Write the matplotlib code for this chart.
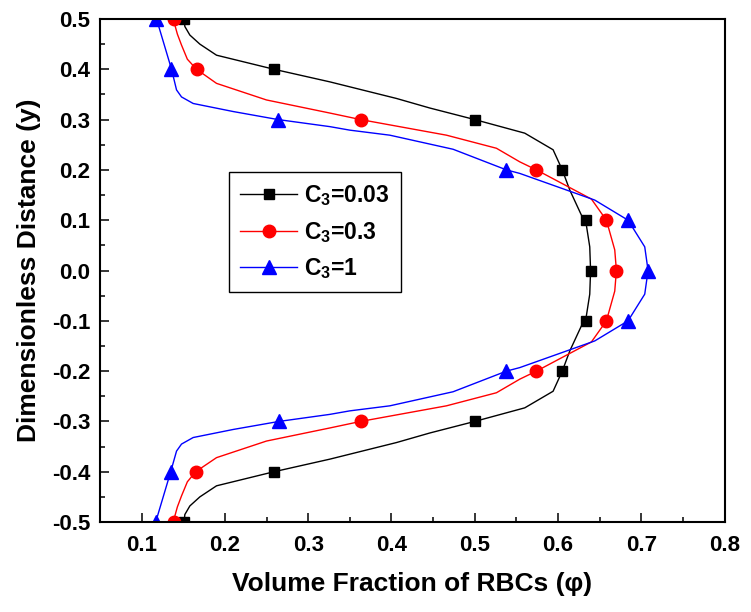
import matplotlib
matplotlib.use("Agg")
import matplotlib.pyplot as plt
from matplotlib.lines import Line2D
from matplotlib.ticker import MultipleLocator, FormatStrFormatter

plt.rcParams['font.family'] = ['Liberation Sans', 'DejaVu Sans']
plt.rcParams['font.weight'] = 'bold'
plt.rcParams['mathtext.fontset'] = 'custom'
plt.rcParams['mathtext.rm'] = 'Liberation Sans:bold'
plt.rcParams['mathtext.bf'] = 'Liberation Sans:bold'
plt.rcParams['mathtext.default'] = 'bf'

# marker points (every 0.1 in y)
y_mk = [0.5, 0.4, 0.3, 0.2, 0.1, 0.0, -0.1, -0.2, -0.3, -0.4, -0.5]
black_mk = [0.151, 0.259, 0.500, 0.605, 0.633, 0.639, 0.633, 0.605, 0.500, 0.259, 0.151]
red_mk = [0.139, 0.166, 0.363, 0.574, 0.658, 0.670, 0.658, 0.574, 0.363, 0.165, 0.139]
blue_mk = [0.117, 0.135, 0.264, 0.537, 0.684, 0.708, 0.684, 0.537, 0.265, 0.135, 0.117]

# curves (denser)
black_y = [0.5, 0.485, 0.468, 0.45, 0.428, 0.4, 0.375, 0.342, 0.323, 0.3, 0.273, 0.24, 0.2, 0.16, 0.11, 0.1, 0.047, 0.0,
           -0.047, -0.1, -0.11, -0.16, -0.2, -0.24, -0.273, -0.3, -0.323, -0.342, -0.375, -0.4, -0.428, -0.45, -0.468, -0.485, -0.5]
black_x = [0.151, 0.152, 0.158, 0.170, 0.190, 0.259, 0.326, 0.406, 0.446, 0.500, 0.560, 0.594, 0.605, 0.614, 0.628, 0.633, 0.638, 0.639,
           0.638, 0.633, 0.628, 0.614, 0.605, 0.594, 0.560, 0.500, 0.446, 0.406, 0.326, 0.259, 0.190, 0.170, 0.158, 0.152, 0.151]

red_y = [0.5, 0.47, 0.448, 0.42, 0.4, 0.372, 0.339, 0.313, 0.3, 0.269, 0.243, 0.216, 0.2, 0.142, 0.1, 0.041, 0.0,
         -0.041, -0.1, -0.142, -0.2, -0.216, -0.243, -0.269, -0.3, -0.313, -0.339, -0.372, -0.4, -0.42, -0.448, -0.47, -0.5]
red_x = [0.138, 0.143, 0.148, 0.155, 0.166, 0.190, 0.250, 0.326, 0.363, 0.466, 0.526, 0.554, 0.574, 0.640, 0.658, 0.668, 0.670,
         0.668, 0.658, 0.640, 0.574, 0.554, 0.526, 0.466, 0.363, 0.326, 0.250, 0.190, 0.165, 0.155, 0.148, 0.143, 0.138]

blue_y = [0.5, 0.4, 0.359, 0.345, 0.332, 0.316, 0.3, 0.286, 0.279, 0.269, 0.241, 0.2, 0.193, 0.14, 0.1, 0.047, 0.0,
          -0.047, -0.1, -0.14, -0.193, -0.2, -0.241, -0.269, -0.279, -0.286, -0.3, -0.316, -0.332, -0.345, -0.359, -0.4, -0.5]
blue_x = [0.118, 0.136, 0.142, 0.148, 0.162, 0.210, 0.264, 0.326, 0.350, 0.398, 0.474, 0.538, 0.554, 0.644, 0.684, 0.704, 0.708,
          0.704, 0.684, 0.644, 0.554, 0.538, 0.474, 0.398, 0.350, 0.326, 0.265, 0.210, 0.162, 0.148, 0.142, 0.135, 0.117]

labels = ['C$_3$=0.03', 'C$_3$=0.3', 'C$_3$=1']

fig = plt.figure(figsize=(7.51, 6.12), dpi=100)
ax = fig.add_axes([0.133, 0.147, 0.832, 0.822])

ax.plot(black_x, black_y, '-', color='black', lw=1.0)
ax.plot(red_x, red_y, '-', color='red', lw=1.0)
ax.plot(blue_x, blue_y, '-', color='blue', lw=1.0)
ax.plot(black_mk, y_mk, 's', color='black', ms=7, ls='none')
ax.plot(red_mk, y_mk, 'o', color='red', ms=9, ls='none')
ax.plot(blue_mk, y_mk, '^', color='blue', ms=10, ls='none')

ax.set_xlim(0.05, 0.8)
ax.set_ylim(-0.5, 0.5)
ax.xaxis.set_major_locator(MultipleLocator(0.1))
ax.xaxis.set_minor_locator(MultipleLocator(0.05))
ax.yaxis.set_major_locator(MultipleLocator(0.1))
ax.yaxis.set_minor_locator(MultipleLocator(0.05))
ax.xaxis.set_major_formatter(FormatStrFormatter('%.1f'))
ax.yaxis.set_major_formatter(FormatStrFormatter('%.1f'))
ax.tick_params(which='major', direction='in', length=6.5, width=1.1, labelsize=16)
ax.tick_params(which='minor', direction='in', length=3.5, width=1.1)
ax.tick_params(axis='x', which='major', pad=9)
ax.tick_params(axis='y', which='major', pad=7)
for s in ax.spines.values():
    s.set_linewidth(1.5)

ax.set_xlabel('Volume Fraction of RBCs (φ)', fontsize=19, fontweight='bold', labelpad=12)
ax.set_ylabel('Dimensionless Distance (y)', fontsize=19, fontweight='bold', labelpad=8)

handles = [
    Line2D([], [], color='black', lw=1.0, marker='s', ms=7),
    Line2D([], [], color='red', lw=1.0, marker='o', ms=9),
    Line2D([], [], color='blue', lw=1.0, marker='^', ms=10),
]
leg = ax.legend(handles, labels, loc='upper left', bbox_to_anchor=(0.206, 0.696),
                borderaxespad=0, fontsize=16.5, fancybox=False, edgecolor='black',
                framealpha=1, handlelength=2.5, handletextpad=0.3,
                labelspacing=0.5, borderpad=0.5)
leg.get_frame().set_linewidth(1.0)
for t in leg.get_texts():
    t.set_fontweight('bold')

fig.savefig('out.png', dpi=100)
